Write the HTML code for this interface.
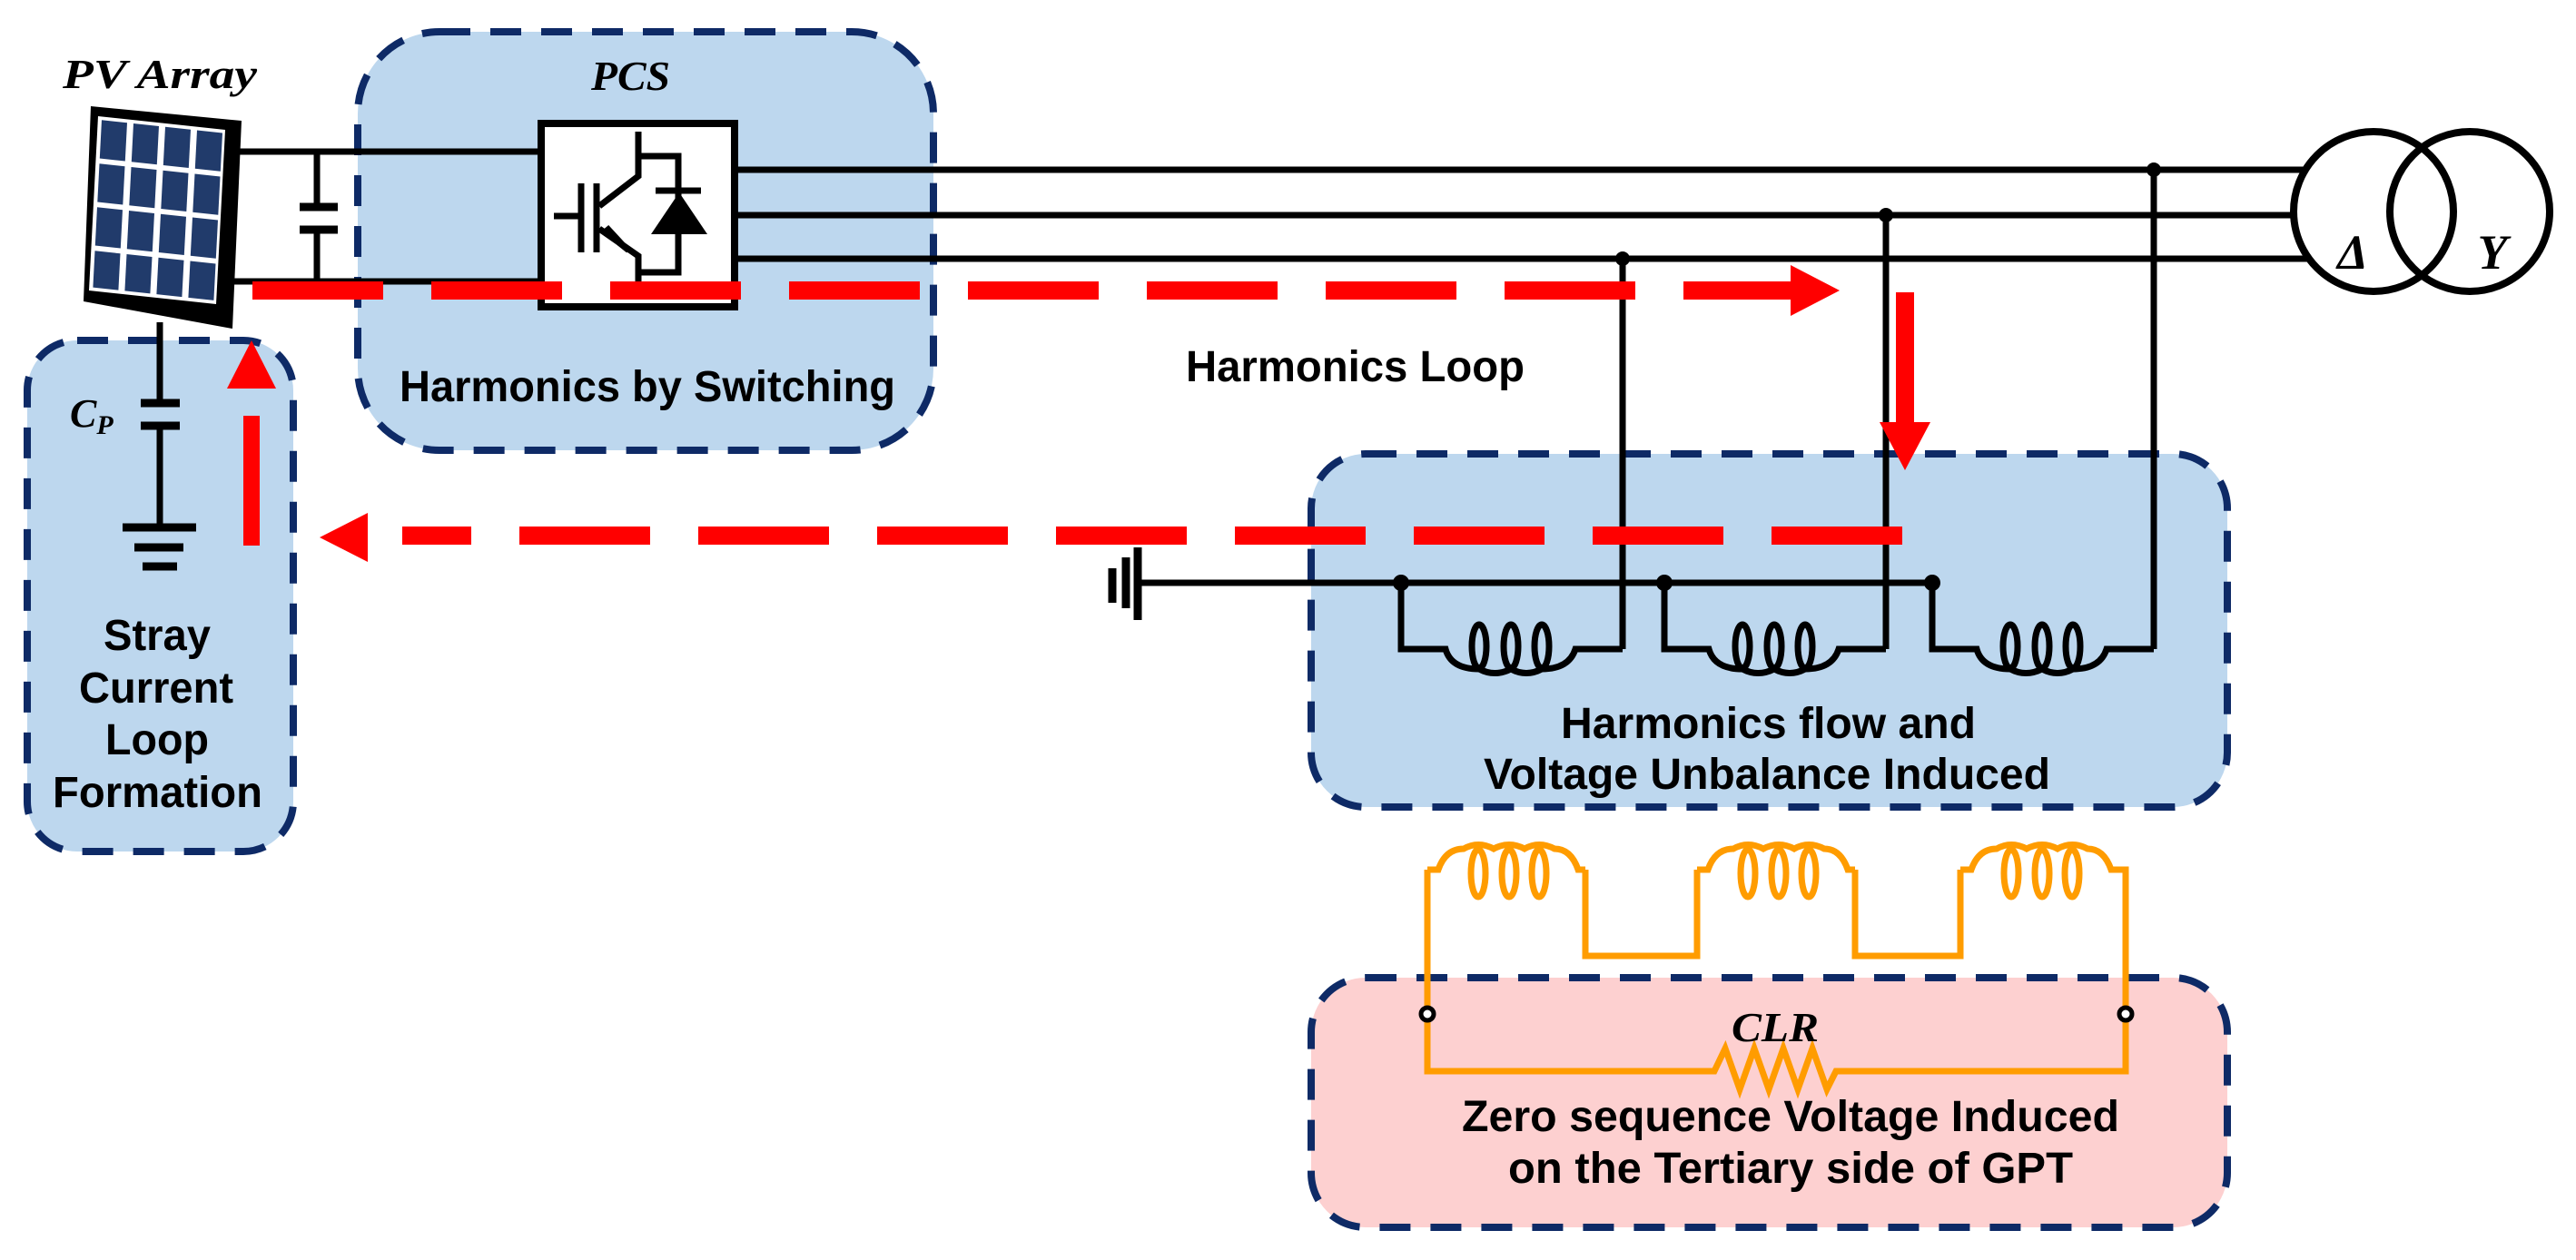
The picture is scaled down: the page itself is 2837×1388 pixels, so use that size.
<!DOCTYPE html>
<html><head><meta charset="utf-8"><style>
html,body{margin:0;padding:0;background:#fff;}
svg{display:block;}
.t{font-family:"Liberation Sans",sans-serif;font-weight:bold;font-size:48px;fill:#000;}
.m{font-family:"Liberation Serif",serif;font-style:italic;font-weight:bold;fill:#000;}
</style></head><body>
<svg width="2837" height="1388" viewBox="0 0 2837 1388" xmlns="http://www.w3.org/2000/svg">
<!-- boxes -->
<g stroke="#0e2a66" stroke-width="8" stroke-dasharray="34 22">
<rect x="394" y="35" width="634" height="461" rx="90" fill="#bdd7ee"/>
<rect x="30" y="375" width="293" height="563" rx="55" fill="#bdd7ee"/>
<rect x="1444" y="500" width="1009" height="389" rx="60" fill="#bdd7ee"/>
<rect x="1444" y="1077" width="1009" height="275" rx="60" fill="#fdd0d0"/>
</g>
<!-- PV panel -->
<polygon points="100,117 266,133 256,362 92,332" fill="#000"/>
<g transform="matrix(140,15,-10,192,108,128)">
<rect x="0" y="0" width="1" height="1" fill="#fff"/>
<g fill="#213b6b">
<rect x="0.03" y="0.02" width="0.2" height="0.22"/><rect x="0.28" y="0.02" width="0.2" height="0.22"/><rect x="0.53" y="0.02" width="0.2" height="0.22"/><rect x="0.78" y="0.02" width="0.2" height="0.22"/>
<rect x="0.03" y="0.27" width="0.2" height="0.22"/><rect x="0.28" y="0.27" width="0.2" height="0.22"/><rect x="0.53" y="0.27" width="0.2" height="0.22"/><rect x="0.78" y="0.27" width="0.2" height="0.22"/>
<rect x="0.03" y="0.52" width="0.2" height="0.22"/><rect x="0.28" y="0.52" width="0.2" height="0.22"/><rect x="0.53" y="0.52" width="0.2" height="0.22"/><rect x="0.78" y="0.52" width="0.2" height="0.22"/>
<rect x="0.03" y="0.77" width="0.2" height="0.21"/><rect x="0.28" y="0.77" width="0.2" height="0.21"/><rect x="0.53" y="0.77" width="0.2" height="0.21"/><rect x="0.78" y="0.77" width="0.2" height="0.21"/>
</g></g>
<!-- black wiring -->
<g stroke="#000" stroke-width="7" fill="none">
<line x1="262" y1="167" x2="594" y2="167"/>
<line x1="255" y1="310" x2="594" y2="310"/>
<line x1="349" y1="167" x2="349" y2="228"/>
<line x1="349" y1="253" x2="349" y2="310"/>
<line x1="176" y1="355" x2="176" y2="444"/>
<line x1="176" y1="469" x2="176" y2="581"/>
<line x1="813" y1="187" x2="2560" y2="187"/>
<line x1="813" y1="237" x2="2560" y2="237"/>
<line x1="813" y1="285" x2="2560" y2="285"/>
<line x1="2372" y1="187" x2="2372" y2="715"/>
<line x1="2077" y1="237" x2="2077" y2="715"/>
<line x1="1787" y1="285" x2="1787" y2="715"/>
<line x1="1253" y1="642" x2="2131" y2="642"/>
</g>
<g stroke="#000" stroke-width="9">
<line x1="330" y1="228" x2="372" y2="228"/>
<line x1="330" y1="253" x2="372" y2="253"/>
<line x1="155" y1="444" x2="198" y2="444"/>
<line x1="155" y1="469" x2="198" y2="469"/>
<line x1="135" y1="581" x2="216" y2="581"/>
<line x1="148" y1="603" x2="202" y2="603"/>
<line x1="157" y1="624" x2="195" y2="624"/>
<line x1="1253" y1="603" x2="1253" y2="683"/>
<line x1="1240" y1="614" x2="1240" y2="670"/>
<line x1="1225" y1="626" x2="1225" y2="664"/>
</g>
<!-- inductors black -->
<g id="ind" stroke="#000" stroke-width="7" fill="none">
<path d="M1543,642 V715 H1592 Q1598,737 1629,737 Q1646,746 1664,737 Q1681,746 1698,737 Q1728,737 1735,715 H1787"/>
<ellipse cx="1629" cy="712" rx="8" ry="24"/><ellipse cx="1664" cy="712" rx="8" ry="24"/><ellipse cx="1698" cy="712" rx="8" ry="24"/>
</g>
<use href="#ind" transform="translate(290,0)"/>
<use href="#ind" transform="translate(585,0)"/>
<g fill="#000">
<circle cx="1543" cy="642" r="9"/><circle cx="1833" cy="642" r="9"/><circle cx="2128" cy="642" r="9"/>
<circle cx="2372" cy="187" r="8"/><circle cx="2077" cy="237" r="8"/><circle cx="1787" cy="285" r="8"/>
</g>
<!-- inverter -->
<rect x="596" y="136" width="213" height="202" fill="#fff" stroke="#000" stroke-width="8"/>
<g stroke="#000" stroke-width="7" fill="none">
<line x1="610" y1="238" x2="640" y2="238"/>
<line x1="640" y1="202" x2="640" y2="278"/>
<line x1="657" y1="202" x2="657" y2="278"/>
<path d="M660,227 L703,194 V145"/>
<path d="M660,252 L703,282 V313"/>
<path d="M703,172 H747 V300 H703"/>
<line x1="722" y1="210" x2="772" y2="210"/>
</g>
<polygon points="717,258 779,258 748,212" fill="#000"/>
<polygon points="668,250 682,268 692,276" fill="#000" stroke="#000" stroke-width="6"/>
<!-- transformer -->
<circle cx="2614" cy="233" r="88" fill="#fff"/>
<circle cx="2720" cy="233" r="88" fill="#fff"/>
<circle cx="2614" cy="233" r="88" fill="none" stroke="#000" stroke-width="8"/>
<circle cx="2720" cy="233" r="88" fill="none" stroke="#000" stroke-width="8"/>
<text x="2591" y="296" class="m" font-size="54" text-anchor="middle" font-style="normal">Δ</text>
<text x="2745" y="296" class="m" font-size="54" text-anchor="middle">Y</text>
<!-- orange tertiary -->
<g id="oc" stroke="#ff9c00" stroke-width="7" fill="none">
<path d="M1572,958 H1584 Q1592,935 1612,935 Q1628,926 1645,935 Q1662,926 1679,935 Q1695,926 1712,935 Q1730,935 1738,958 H1746"/>
<ellipse cx="1628" cy="962" rx="8" ry="26"/><ellipse cx="1662" cy="962" rx="8" ry="26"/><ellipse cx="1695" cy="962" rx="8" ry="26"/>
</g>
<use href="#oc" transform="translate(297,0)"/>
<use href="#oc" transform="translate(587,0)"/>
<g stroke="#ff9c00" stroke-width="7" fill="none">
<path d="M1746,958 V1053 H1869 V958"/>
<path d="M2043,958 V1053 H2159 V958"/>
<path d="M1572,958 V1180 H1888 L1900,1155 L1916,1200 L1932,1155 L1948,1200 L1964,1155 L1980,1200 L1996,1155 L2012,1200 L2022,1180 H2341 V958 H2333"/>
</g>
<circle cx="1572" cy="1117" r="7" fill="#fff" stroke="#000" stroke-width="5"/>
<circle cx="2341" cy="1117" r="7" fill="#fff" stroke="#000" stroke-width="5"/>
<!-- red loop -->
<g stroke="#ff0000" stroke-width="20" fill="none">
<line x1="278" y1="320" x2="1975" y2="320" stroke-dasharray="144 53"/>
<line x1="2098" y1="322" x2="2098" y2="468"/>
<line x1="443" y1="590" x2="2098" y2="590" stroke-dasharray="144 53" stroke-dashoffset="68"/>
<line x1="277" y1="458" x2="277" y2="601" stroke-width="18"/>
</g>
<g fill="#ff0000">
<polygon points="1972,292 2026,320 1972,348"/>
<polygon points="2070,465 2126,465 2098,518"/>
<polygon points="405,565 405,619 352,592"/>
<polygon points="250,428 304,428 277,375"/>
</g>
<!-- labels -->
<text x="69" y="97" class="m" font-size="46" textLength="214" lengthAdjust="spacingAndGlyphs">PV Array</text>
<text x="651" y="99" class="m" font-size="46" textLength="87" lengthAdjust="spacingAndGlyphs">PCS</text>
<text x="1907" y="1147" class="m" font-size="46" textLength="96" lengthAdjust="spacingAndGlyphs">CLR</text>
<text x="77" y="470" class="m" font-size="44">C<tspan font-size="30" dy="8">P</tspan></text>
<text x="440" y="442" class="t" textLength="546" lengthAdjust="spacingAndGlyphs">Harmonics by Switching</text>
<text x="1306" y="420" class="t" textLength="373" lengthAdjust="spacingAndGlyphs">Harmonics Loop</text>
<text x="1719" y="813" class="t" textLength="457" lengthAdjust="spacingAndGlyphs">Harmonics flow and</text>
<text x="1634" y="869" class="t" textLength="624" lengthAdjust="spacingAndGlyphs">Voltage Unbalance Induced</text>
<text x="1610" y="1246" class="t" textLength="724" lengthAdjust="spacingAndGlyphs">Zero sequence Voltage Induced</text>
<text x="1661" y="1303" class="t" textLength="622" lengthAdjust="spacingAndGlyphs">on the Tertiary side of GPT</text>
<text x="114" y="716" class="t" textLength="118" lengthAdjust="spacingAndGlyphs">Stray</text>
<text x="87" y="774" class="t" textLength="170" lengthAdjust="spacingAndGlyphs">Current</text>
<text x="116" y="831" class="t" textLength="114" lengthAdjust="spacingAndGlyphs">Loop</text>
<text x="58" y="889" class="t" textLength="231" lengthAdjust="spacingAndGlyphs">Formation</text>
</svg>
</body></html>
